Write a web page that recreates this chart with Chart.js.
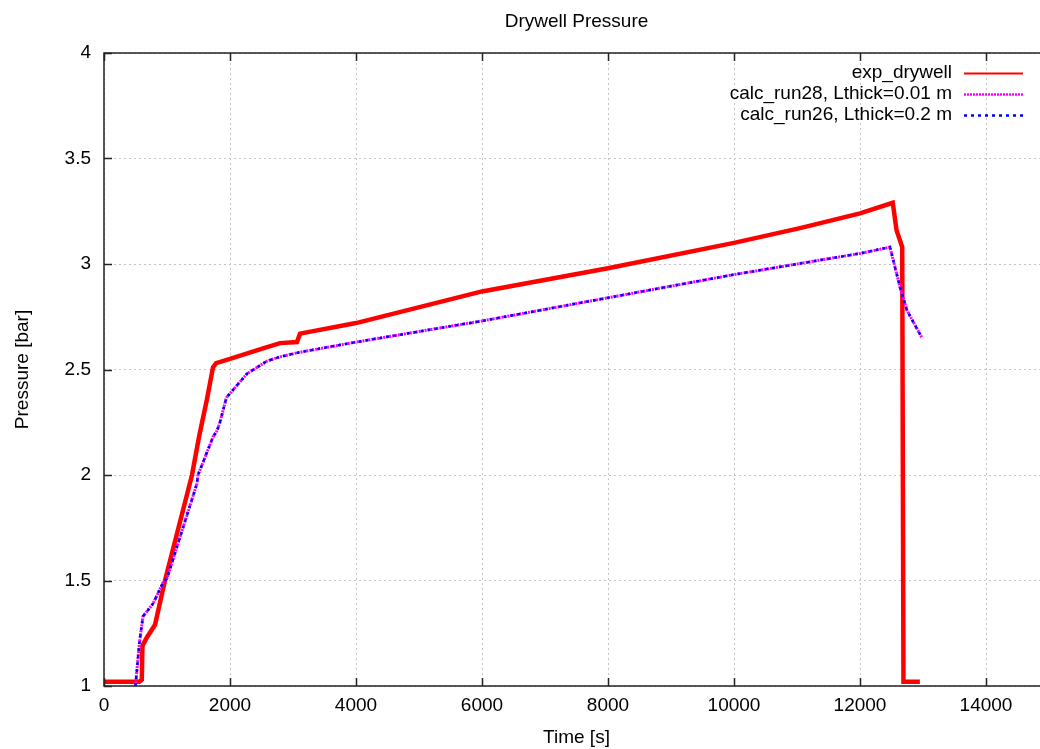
<!DOCTYPE html>
<html>
<head>
<meta charset="utf-8">
<script src="https://cdn.jsdelivr.net/npm/chart.js@4/dist/chart.umd.min.js"></script>
<style>
  html, body { margin: 0; padding: 0; background: #fff; overflow: hidden; }
  #wrap { width: 1060px; height: 749px; }
</style>
</head>
<body>
<div id="wrap"><canvas id="chart" width="1060" height="749"></canvas></div>
<script>
// values
const expTime = [0, 560, 600, 610, 680, 810, 937, 968, 1397, 1508, 1635, 1730, 1780, 2000, 2524, 2794, 3063, 3111, 4000, 6000, 8000, 10000, 11048, 12000, 12520, 12580, 12670, 12690, 12950];
const expValues = [1.02, 1.02, 1.03, 1.19, 1.23, 1.29, 1.46, 1.50, 2.00, 2.18, 2.36, 2.51, 2.53, 2.55, 2.60, 2.625, 2.63, 2.67, 2.72, 2.87, 2.98, 3.10, 3.17, 3.24, 3.29, 3.16, 3.08, 1.02, 1.02];

const calcTime = [500, 560, 619, 778, 937, 1000, 1476, 1492, 1730, 1794, 1841, 1937, 1952, 2270, 2587, 2794, 3079, 4000, 6000, 8000, 10000, 12000, 12476, 12635, 12746, 12984];
const run28Values = [1.00, 1.20, 1.33, 1.39, 1.49, 1.51, 1.96, 2.00, 2.18, 2.21, 2.25, 2.36, 2.37, 2.48, 2.54, 2.56, 2.58, 2.63, 2.73, 2.84, 2.95, 3.05, 3.08, 2.89, 2.78, 2.65];
const run26Values = [1.00, 1.20, 1.33, 1.39, 1.49, 1.51, 1.96, 2.00, 2.18, 2.21, 2.25, 2.36, 2.37, 2.48, 2.54, 2.56, 2.58, 2.63, 2.73, 2.84, 2.95, 3.05, 3.08, 2.89, 2.78, 2.65];

const seriesNames = ["exp_drywell", "calc_run28, Lthick=0.01 m", "calc_run26, Lthick=0.2 m"];
const chartTitle = "Drywell Pressure";

const xTicks = [0, 2000, 4000, 6000, 8000, 10000, 12000, 14000];
const yTicks = [1, 1.5, 2, 2.5, 3, 3.5, 4];

const FONT = "'Liberation Sans', Arial, sans-serif";

function toPoints(xs, ys) {
    return xs.map((x, i) => ({ x: x, y: ys[i] }));
}

// title over the plot, box, inward tick marks and the key in the upper right corner
const gnuplotFrame = {
    id: "gnuplotFrame",
    afterDraw(chart) {
        const ctx = chart.ctx;
        const a = chart.chartArea;
        const xs = chart.scales.x;
        const ys = chart.scales.y;
        ctx.save();
        ctx.font = "19px " + FONT;
        ctx.fillStyle = "#000";
        ctx.textAlign = "center";
        ctx.textBaseline = "middle";
        ctx.fillText(chartTitle, (a.left + a.right) / 2, 22);

        ctx.strokeStyle = "#222";
        ctx.lineWidth = 1.5;
        ctx.setLineDash([]);
        ctx.strokeRect(a.left, a.top, a.right - a.left, a.bottom - a.top);
        ctx.beginPath();
        xTicks.forEach(v => {
            const px = Math.round(xs.getPixelForValue(v)) + 0.5;
            ctx.moveTo(px, a.bottom);
            ctx.lineTo(px, a.bottom - 8);
            ctx.moveTo(px, a.top);
            ctx.lineTo(px, a.top + 8);
        });
        yTicks.forEach(v => {
            const py = Math.round(ys.getPixelForValue(v)) + 0.5;
            ctx.moveTo(a.left, py);
            ctx.lineTo(a.left + 8, py);
            ctx.moveTo(a.right, py);
            ctx.lineTo(a.right - 8, py);
        });
        ctx.stroke();

        // key
        ctx.textAlign = "right";
        chart.data.datasets.forEach((ds, i) => {
            const y = 73 + i * 21;
            ctx.fillText(seriesNames[i], 952, y);
            ctx.beginPath();
            ctx.strokeStyle = ds.borderColor;
            ctx.lineWidth = i === 0 ? 2 : 2.5;
            ctx.setLineDash(ds.borderDash || []);
            ctx.moveTo(964, y + 0.5);
            ctx.lineTo(1023, y + 0.5);
            ctx.stroke();
        });
        ctx.restore();
    }
};

const ctx = document.getElementById("chart").getContext("2d");
new Chart(ctx, {
    type: "line",
    data: {
        datasets: [
            {
                label: seriesNames[0],
                data: toPoints(expTime, expValues),
                borderColor: "#ff0000",
                borderWidth: 4.5,
                order: 3
            },
            {
                label: seriesNames[1],
                data: toPoints(calcTime, run28Values),
                borderColor: "#ff00ff",
                borderWidth: 3,
                borderDash: [2, 1],
                order: 2
            },
            {
                label: seriesNames[2],
                data: toPoints(calcTime, run26Values),
                borderColor: "#0000ff",
                borderWidth: 2.5,
                borderDash: [3, 4],
                order: 1
            }
        ]
    },
    options: {
        responsive: false,
        animation: false,
        layout: { padding: { left: 0, right: 11, top: 53, bottom: 0 } },
        elements: {
            point: { radius: 0 },
            line: { tension: 0, fill: false, borderCapStyle: "butt" }
        },
        plugins: {
            legend: { display: false },
            tooltip: { enabled: false },
            title: { display: false }
        },
        scales: {
            x: {
                type: "linear",
                min: 0,
                max: 15000,
                afterFit(scale) { scale.height = 63; },
                afterBuildTicks(scale) { scale.ticks = xTicks.map(v => ({ value: v })); },
                ticks: {
                    color: "#000",
                    font: { family: FONT, size: 19 },
                    padding: 8,
                    maxRotation: 0,
                    callback: v => String(v)
                },
                grid: { color: "#c4c4c4", lineWidth: 1, drawTicks: false },
                border: { display: false, dash: [2, 3] },
                title: {
                    display: true,
                    text: "Time [s]",
                    color: "#000",
                    font: { family: FONT, size: 19 },
                    padding: { top: 0, bottom: 0 }
                }
            },
            y: {
                type: "linear",
                min: 1,
                max: 4,
                afterFit(scale) { scale.width = 104; },
                afterBuildTicks(scale) { scale.ticks = yTicks.map(v => ({ value: v })); },
                ticks: {
                    color: "#000",
                    font: { family: FONT, size: 19 },
                    padding: 13,
                    callback: v => String(v)
                },
                grid: { color: "#c4c4c4", lineWidth: 1, drawTicks: false },
                border: { display: false, dash: [2, 3] },
                title: {
                    display: true,
                    text: "Pressure [bar]",
                    color: "#000",
                    font: { family: FONT, size: 19 },
                    padding: { top: 11, bottom: 0 }
                }
            }
        }
    },
    plugins: [gnuplotFrame]
});
</script>
</body>
</html>
